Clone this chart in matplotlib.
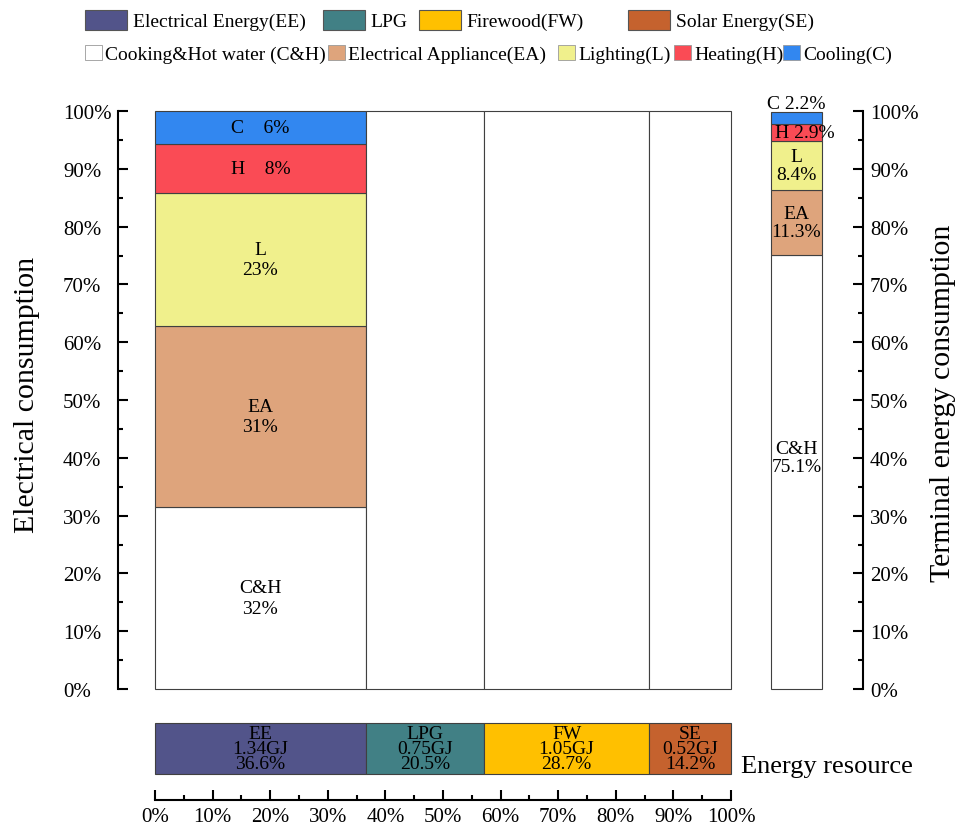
import numpy as np
import matplotlib.pyplot as plt
from matplotlib.patches import Patch
from matplotlib.ticker import MultipleLocator

plt.rcParams['font.family'] = ['Liberation Serif', 'DejaVu Serif']

# Recursos energéticos
recursos = ['EE', 'LPG', 'FW', 'SE']
nombres_recursos = ['Electrical Energy(EE)', 'LPG', 'Firewood(FW)', 'Solar Energy(SE)']
gj = [1.34, 0.75, 1.05, 0.52]
cuota = [36.6, 20.5, 28.7, 14.2]
colores_recursos = ['#52548A', '#418085', '#FFC000', '#C5622E']

# Usos finales
usos = ['C&H', 'EA', 'L', 'H', 'C']
nombres_usos = ['Cooking&Hot water (C&H)', 'Electrical Appliance(EA)',
                'Lighting(L)', 'Heating(H)', 'Cooling(C)']
electrico = [31.5, 31.3, 23.0, 8.5, 5.7]   # consumo eléctrico (%)
terminal = [75.1, 11.3, 8.4, 2.9, 2.2]     # consumo terminal (%)
colores_usos = ['#FFFFFF', '#DEA47C', '#F0F08C', '#FA4B55', '#3287F0']

W, H = 967, 829
borde = '#404040'


def caja(l, t, r, b):
    # rectángulo en píxeles -> coordenadas de figura
    return [l / W, 1 - b / H, (r - l) / W, (b - t) / H]


def ejes_y(ax, lado):
    ax.yaxis.set_major_locator(MultipleLocator(10))
    ax.yaxis.set_minor_locator(MultipleLocator(5))
    ax.tick_params(axis='y', which='both', direction='in', width=1.5,
                   left=(lado == 'left'), labelleft=(lado == 'left'),
                   right=(lado == 'right'), labelright=(lado == 'right'))
    ax.tick_params(axis='y', which='major', length=7.2, labelsize=15)
    ax.tick_params(axis='y', which='minor', length=3.6)


fig = plt.figure(figsize=(W / 100, H / 100), dpi=100)

izq = np.concatenate([[0], np.cumsum(cuota)[:-1]])

# ---- gráfico principal: consumo eléctrico ----
ax = fig.add_axes(caja(155, 112, 731, 690))
base = 0
for uso, val, col in zip(usos, electrico, colores_usos):
    ax.bar(izq[0], val, width=cuota[0], bottom=base, align='edge', color=col,
           edgecolor=borde, linewidth=0.8, clip_on=False)
    if uso in ('H', 'C'):
        txt = f'{uso}    {val:.0f}%'
    else:
        txt = f'{uso}\n{val:.0f}%'
    ax.text(izq[0] + cuota[0] / 2, base + val / 2, txt, ha='center', va='center',
            fontsize=14, linespacing=1.3)
    base += val
for i in range(1, len(recursos)):
    ax.bar(izq[i], 100, width=cuota[i], align='edge', color='white',
           edgecolor=borde, linewidth=0.8, clip_on=False)

ax.set_xlim(0, 100)
ax.set_ylim(0, 100)
ax.set_xticks([])
for s in ['top', 'right', 'bottom']:
    ax.spines[s].set_visible(False)
ax.spines['left'].set_position(('outward', 26.6))
ax.spines['left'].set_linewidth(1.5)
ejes_y(ax, 'left')
ticks = np.arange(0, 101, 10)
ax.set_yticks(ticks, [f'{v}%' for v in ticks], ha='left')
ax.tick_params(axis='y', which='major', pad=39.6)

# ---- barra derecha: consumo terminal ----
axr = fig.add_axes(caja(771, 112, 822, 690))
base = 0
for uso, val, col in zip(usos, terminal, colores_usos):
    axr.bar(0, val, width=1, bottom=base, align='edge', color=col,
            edgecolor=borde, linewidth=0.8, clip_on=False)
    if uso == 'C':
        axr.text(0.5, base + val, f'{uso} {val}%', ha='center', va='bottom', fontsize=14)
    elif uso == 'H':
        axr.text(0.08, base + val / 2, f'{uso} {val}%', ha='left', va='center', fontsize=14)
    else:
        y = base + val / 2 + (2.5 if uso == 'C&H' else 0)
        axr.text(0.5, y, f'{uso}\n{val}%', ha='center', va='center',
                 fontsize=14, linespacing=1.1)
    base += val

axr.set_xlim(0, 1)
axr.set_ylim(0, 100)
axr.set_xticks([])
for s in ['top', 'left', 'bottom']:
    axr.spines[s].set_visible(False)
axr.spines['right'].set_position(('outward', 29.5))
axr.spines['right'].set_linewidth(1.5)
ejes_y(axr, 'right')
axr.set_yticks(ticks, [f'{v}%' for v in ticks])
axr.tick_params(axis='y', which='major', pad=5)

# ---- tira inferior: recursos energéticos ----
axb = fig.add_axes(caja(155, 724, 731, 775))
axb.barh(0.5, cuota, left=izq, height=1, color=colores_recursos,
         edgecolor=borde, linewidth=0.8, clip_on=False)
for r, g, c, x in zip(recursos, gj, cuota, izq):
    axb.text(x + c / 2, 0.5, f'{r}\n{g:.2f}GJ\n{c:.1f}%', ha='center', va='center',
             fontsize=14, linespacing=0.85)
axb.set_xlim(0, 100)
axb.set_ylim(0, 1)
axb.set_yticks([])
for s in ['top', 'left', 'right']:
    axb.spines[s].set_visible(False)
axb.spines['bottom'].set_position(('outward', 18.5))
axb.spines['bottom'].set_linewidth(1.5)
axb.xaxis.set_minor_locator(MultipleLocator(5))
axb.set_xticks(ticks, [f'{v}%' for v in ticks])
axb.tick_params(axis='x', which='both', direction='in', width=1.5)
axb.tick_params(axis='x', which='major', length=7.2, labelsize=15, pad=5)
axb.tick_params(axis='x', which='minor', length=3.6)

# ---- títulos de ejes ----
fig.text(27 / W, 1 - 395 / H, 'Electrical consumption', rotation=90,
         ha='center', va='center', fontsize=21.5)
fig.text(943 / W, 1 - 403 / H, 'Terminal energy consumption', rotation=90,
         ha='center', va='center', fontsize=21.5)
fig.text(827 / W, 1 - 767 / H, 'Energy resource', ha='center', va='center', fontsize=19)

# ---- leyendas ----
x_fila1 = [85, 323, 419, 628]
for nombre, col, x in zip(nombres_recursos, colores_recursos, x_fila1):
    fig.legend(handles=[Patch(facecolor=col, edgecolor='#555555', linewidth=0.8)],
               labels=[nombre], loc='center left', bbox_to_anchor=(x / W, 1 - 21 / H),
               frameon=False, borderpad=0, borderaxespad=0, handlelength=2.15,
               handleheight=1.2, handletextpad=0.3, fontsize=14)

x_fila2 = [85, 328, 558, 674, 783]
for nombre, col, x in zip(nombres_usos, colores_usos, x_fila2):
    fig.legend(handles=[Patch(facecolor=col, edgecolor='#999999', linewidth=0.6)],
               labels=[nombre], loc='center left', bbox_to_anchor=(x / W, 1 - 55 / H),
               frameon=False, borderpad=0, borderaxespad=0, handlelength=0.85,
               handleheight=0.85, handletextpad=0.2, fontsize=14)

fig.savefig('out.png', dpi=100)
